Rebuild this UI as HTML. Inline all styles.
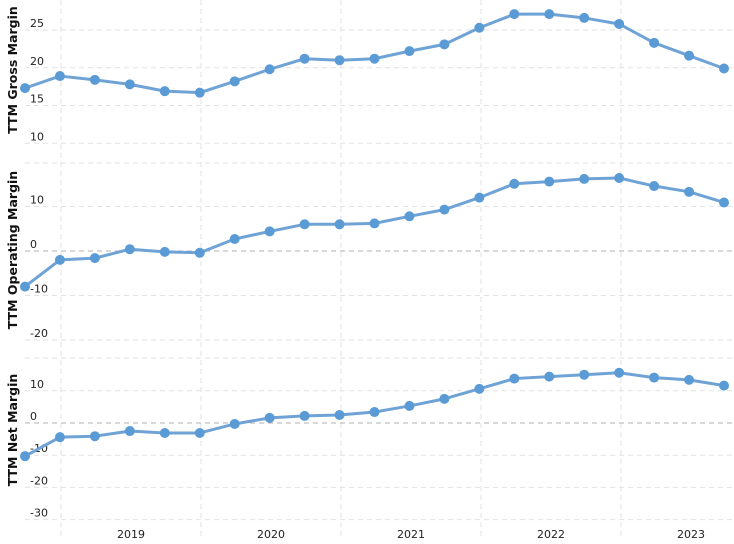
<!DOCTYPE html>
<html><head><meta charset="utf-8"><style>
body{margin:0;background:#fff;}
svg{display:block;font-family:"DejaVu Sans","Liberation Sans",sans-serif;}
</style></head><body>
<svg id="c" width="734" height="544"></svg>
<script>
const categories=["2018Q2","2018Q3","2018Q4","2019Q1","2019Q2","2019Q3","2019Q4","2020Q1","2020Q2","2020Q3","2020Q4","2021Q1","2021Q2","2021Q3","2021Q4","2022Q1","2022Q2","2022Q3","2022Q4","2023Q1","2023Q2"];
const grossValues=[17.3,18.9,18.4,17.8,16.9,16.7,18.2,19.8,21.2,21.0,21.2,22.2,23.1,25.3,27.1,27.1,26.6,25.8,23.3,21.6,19.9];
const operatingValues=[-8.0,-2.0,-1.6,0.4,-0.2,-0.4,2.7,4.4,6.0,6.0,6.2,7.8,9.3,12.0,15.1,15.6,16.2,16.4,14.6,13.3,10.9];
const netValues=[-10.3,-4.4,-4.1,-2.5,-3.1,-3.1,-0.3,1.6,2.2,2.5,3.4,5.3,7.5,10.6,13.8,14.4,15.0,15.6,14.1,13.4,11.6];
const grossTicks=[25,20,15,10];
const operatingTicks=[10,0,-10,-20];
const netTicks=[10,0,-10,-20,-30];
const yearLabels=["2019","2020","2021","2022","2023"];

const NS="http://www.w3.org/2000/svg";
const svg=document.getElementById('c');
function mk(t,a,p){const e=document.createElementNS(NS,t);for(const k in a)e.setAttribute(k,a[k]);(p||svg).appendChild(e);return e;}
const x0=25,x1=724;
function xs(i){return x0+(x1-x0)*i/(categories.length-1);}
for(let k=0;k<5;k++){const gx=61+140*k;
const l=mk('line',{x1:gx,x2:gx,y1:0,y2:540,stroke:'#e2e2e2','stroke-dasharray':'5,4'});

}
yearLabels.forEach((y,k)=>{const t=mk('text',{x:131+140*k,y:538,'font-size':11,'text-anchor':'middle',fill:'#222'});t.textContent=y;

});
const panels=[
 {name:'gross',title:'TTM Gross Margin',vals:grossValues,ticks:grossTicks,ref:25,refY:30,ppu:7.55,tc:70,extra:[163]},
 {name:'operating',title:'TTM Operating Margin',vals:operatingValues,ticks:operatingTicks,ref:0,refY:251,ppu:4.45,tc:250,extra:[163,358]},
 {name:'net',title:'TTM Net Margin',vals:netValues,ticks:netTicks,ref:0,refY:423,ppu:3.22,tc:430,extra:[358]}
];
panels.forEach(p=>{
 const ys=v=>p.refY-(v-p.ref)*p.ppu;
 const g=mk('g',{});
 
 
 p.extra.forEach(yy=>mk('line',{x1:25,x2:734,y1:yy,y2:yy,stroke:'#e2e2e2','stroke-dasharray':'5,4'},g));
 p.ticks.forEach(t=>{const yy=ys(t);
  const l=mk('line',{x1:25,x2:734,y1:yy,y2:yy,stroke:t===0?'#b0b0b0':'#e2e2e2','stroke-dasharray':'5,4'},g);
  
  
  const tx=mk('text',{x:30,y:yy-3,'font-size':11,fill:'#222'},g);tx.textContent=t;
  
  });
 const tt=mk('text',{x:0,y:0,'font-size':12.5,'font-weight':'bold','text-anchor':'middle',fill:'#111',transform:`translate(17,${p.tc}) rotate(-90)`},g);
 tt.textContent=p.title;
 
 
 const pts=p.vals.map((v,i)=>xs(i)+','+ys(v)).join(' ');
 const pl=mk('polyline',{points:pts,fill:'none',stroke:'#6fa3d6','stroke-width':3,'stroke-linejoin':'round'},g);
 
 
 p.vals.forEach((v,i)=>{const c=mk('circle',{cx:xs(i),cy:ys(v),r:5,fill:'#5b9bd5'},g);
  
  });
});
</script>
</body></html>
